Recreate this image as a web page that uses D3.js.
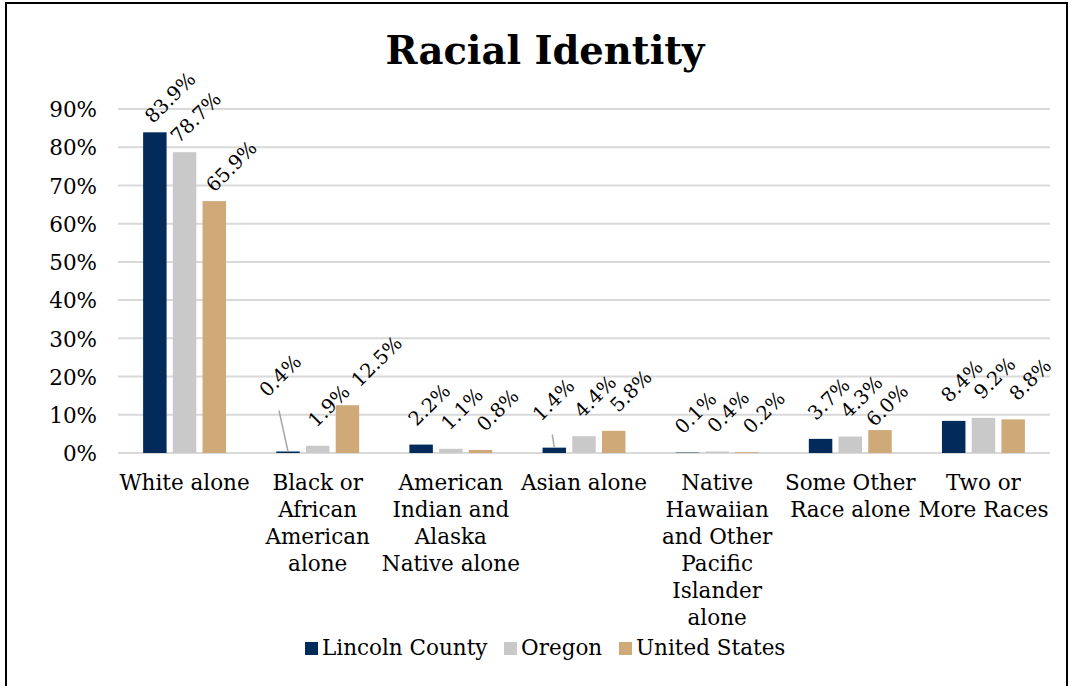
<!DOCTYPE html>
<html>
<head>
<meta charset="utf-8">
<script src="https://cdn.jsdelivr.net/npm/d3@7"></script>
<style>
  html, body { margin: 0; padding: 0; background: #fff; }
  svg { display: block; }
  text { font-family: "DejaVu Serif", Georgia, serif; fill: #000; }
</style>
</head>
<body>
<svg id="chart" width="1073" height="686"></svg>
<script>
// Category labels, already broken into the lines they are shown on
const categories = [
  ["White alone"],
  ["Black or", "African", "American", "alone"],
  ["American", "Indian and", "Alaska", "Native alone"],
  ["Asian alone"],
  ["Native", "Hawaiian", "and Other", "Pacific", "Islander", "alone"],
  ["Some Other", "Race alone"],
  ["Two or", "More Races"]
];
const seriesNames = ["Lincoln County", "Oregon", "United States"];
const lincolnCounty = [83.9, 0.4, 2.2, 1.4, 0.1, 3.7, 8.4];
const oregon        = [78.7, 1.9, 1.1, 4.4, 0.4, 4.3, 9.2];
const unitedStates  = [65.9, 12.5, 0.8, 5.8, 0.2, 6.0, 8.8];
const yTicks = [0, 10, 20, 30, 40, 50, 60, 70, 80, 90];

const colors = ["#022B5C", "#C9C9C9", "#CFA978"];
const seriesValues = [lincolnCounty, oregon, unitedStates];

// Labels that were dragged away from their bars (with a leader line back)
const movedLabels = [
  { cat: 1, s: 0, dx: -16, dy: -36, leader: true },
  { cat: 3, s: 0, dx: -9,  dy: -8,  leader: true },
  { cat: 5, s: 2, dx: -10, dy: 15,  leader: false },
  { cat: 1, s: 2, dx: 12,  dy: -4,  leader: false },
  { cat: 0, s: 0, dx: 7,   dy: 0,   leader: false }
];

const svg = d3.select("#chart");
const plot = { left: 118, right: 1050, top: 109, bottom: 453 };

// Frame
svg.append("rect")
  .attr("x", 6).attr("y", 3)
  .attr("width", 1061).attr("height", 720)
  .attr("fill", "none").attr("stroke", "#000").attr("stroke-width", 2);

// Title
svg.append("text")
  .attr("x", 545).attr("y", 64)
  .attr("text-anchor", "middle")
  .style("font-weight", "bold")
  .style("font-size", "38.5px")
  .text("Racial Identity");

const x = d3.scaleBand()
  .domain(d3.range(categories.length))
  .range([plot.left, plot.right])
  .paddingInner(0).paddingOuter(0);

const xs = d3.scaleBand()
  .domain(d3.range(seriesNames.length))
  .range([0, x.bandwidth()])
  .paddingInner(0.21).paddingOuter(0.845);

const y = d3.scaleLinear().domain([0, 90]).range([plot.bottom, plot.top]);

// Gridlines
svg.append("g").selectAll("line")
  .data(yTicks)
  .join("line")
  .attr("x1", plot.left).attr("x2", plot.right)
  .attr("y1", d => y(d)).attr("y2", d => y(d))
  .attr("stroke", "#D9D9D9").attr("stroke-width", 2);

// Y axis labels
const yAxis = d3.axisLeft(y).tickValues(yTicks).tickFormat(d => d + "%").tickSize(0).tickPadding(0);
const yg = svg.append("g").attr("transform", `translate(${plot.left - 21},0)`).call(yAxis);
yg.select(".domain").remove();
yg.selectAll("text")
  .style("font-family", "\"DejaVu Serif\", Georgia, serif")
  .style("font-size", "21.5px")
  .attr("fill", "#000")
  .attr("dy", "0.36em");

// Bars
const barData = [];
categories.forEach((c, i) => {
  seriesValues.forEach((vals, s) => {
    barData.push({ cat: i, s, v: vals[i] });
  });
});

svg.append("g").selectAll("rect")
  .data(barData)
  .join("rect")
  .attr("x", d => x(d.cat) + xs(d.s))
  .attr("width", xs.bandwidth())
  .attr("y", d => y(d.v))
  .attr("height", d => y(0) - y(d.v))
  .attr("fill", d => colors[d.s]);

// Data labels, rotated 45 degrees above each bar
const seriesShift = [8, 11, 17];
const labelG = svg.append("g");
barData.forEach(d => {
  const bx = x(d.cat) + xs(d.s) + xs.bandwidth() / 2;
  const by = y(d.v);
  const moved = movedLabels.find(m => m.cat === d.cat && m.s === d.s);
  let cx = bx + seriesShift[d.s];
  let cy = by - (d.cat === 0 ? 35 : 40);
  if (moved) { cx += moved.dx; cy += moved.dy; }
  if (moved && moved.leader) {
    labelG.append("line")
      .attr("x1", cx - 1).attr("y1", cy + 35)
      .attr("x2", bx).attr("y2", by)
      .attr("stroke", "#A6A6A6").attr("stroke-width", 1.5);
  }
  labelG.append("text")
    .attr("transform", `translate(${cx},${cy}) rotate(-45)`)
    .attr("text-anchor", "middle")
    .attr("dy", "0.36em")
    .style("font-size", "19.5px")
    .text(d.v.toFixed(1) + "%");
});

// Category labels
const catG = svg.append("g");
categories.forEach((lines, i) => {
  const t = catG.append("text")
    .attr("x", x(i) + x.bandwidth() / 2)
    .attr("y", 490)
    .attr("text-anchor", "middle")
    .style("font-size", "21.5px");
  lines.forEach((ln, k) => {
    t.append("tspan")
      .attr("x", x(i) + x.bandwidth() / 2)
      .attr("y", 490 + k * 27)
      .text(ln);
  });
});

// Legend
const legendStarts = [305, 504, 619];
const leg = svg.append("g");
seriesNames.forEach((name, s) => {
  leg.append("rect")
    .attr("x", legendStarts[s]).attr("y", 642)
    .attr("width", 13).attr("height", 13)
    .attr("fill", colors[s]);
  leg.append("text")
    .attr("x", legendStarts[s] + 17).attr("y", 655)
    .style("font-size", "21.5px")
    .text(name);
});
</script>
</body>
</html>
